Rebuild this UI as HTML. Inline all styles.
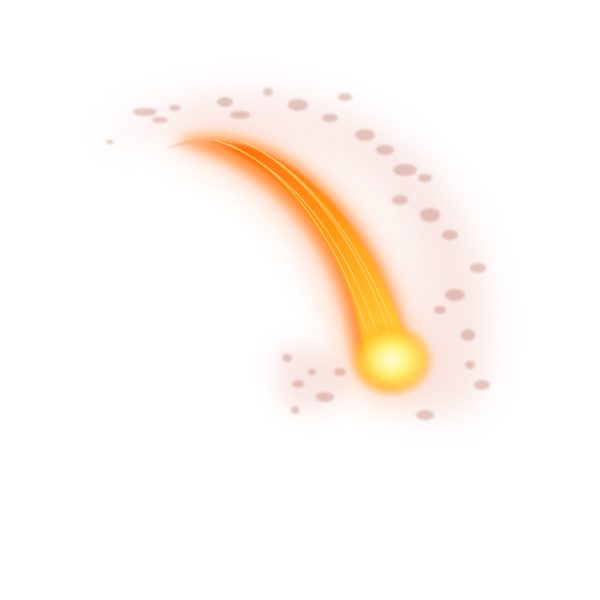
<!DOCTYPE html>
<html><head><meta charset="utf-8"><style>
html,body{margin:0;padding:0;background:#fff;width:600px;height:600px;overflow:hidden}
</style></head><body>
<svg width="600" height="600" viewBox="0 0 600 600">
<defs>
<filter id="b20" x="-50%" y="-50%" width="200%" height="200%"><feGaussianBlur stdDeviation="18"/></filter>
<filter id="b12" x="-50%" y="-50%" width="200%" height="200%"><feGaussianBlur stdDeviation="12"/></filter>
<filter id="b6" x="-50%" y="-50%" width="200%" height="200%"><feGaussianBlur stdDeviation="6"/></filter>
<filter id="b3" x="-50%" y="-50%" width="200%" height="200%"><feGaussianBlur stdDeviation="3"/></filter>
<filter id="b1"><feGaussianBlur stdDeviation="1.2"/></filter>
<linearGradient id="tail" x1="180" y1="140" x2="400" y2="370" gradientUnits="userSpaceOnUse">
<stop offset="0" stop-color="#f0a080" stop-opacity="0.5"/>
<stop offset="0.15" stop-color="#ff7010"/>
<stop offset="0.55" stop-color="#ff9a18"/>
<stop offset="1" stop-color="#ffd840"/>
</linearGradient>
<radialGradient id="head" cx="0.5" cy="0.5" r="0.5">
<stop offset="0" stop-color="#fffce0"/>
<stop offset="0.45" stop-color="#fff070"/>
<stop offset="0.8" stop-color="#ffc020" stop-opacity="0.7"/>
<stop offset="1" stop-color="#ff9010" stop-opacity="0"/>
</radialGradient>
</defs>
<path d="M110,130 C200,80 330,80 420,160 C480,220 500,300 480,400 C460,420 420,420 400,400 C440,330 430,230 360,170 C290,120 200,120 110,140 Z" fill="#f3c8c0" opacity="0.45" filter="url(#b20)"/>
<path d="M275,350 C300,340 340,350 350,380 C340,415 300,420 280,400 Z" fill="#f3c8c0" opacity="0.45" filter="url(#b12)"/>
<g filter="url(#b1)" fill="#b87060" opacity="0.35">
<ellipse cx="145" cy="112" rx="12" ry="4"/><ellipse cx="160" cy="120" rx="8" ry="3"/>
<ellipse cx="110" cy="142" rx="4" ry="2"/><ellipse cx="175" cy="108" rx="6" ry="3"/>
<ellipse cx="225" cy="102" rx="8" ry="5"/><ellipse cx="240" cy="115" rx="10" ry="4"/>
<ellipse cx="268" cy="92" rx="5" ry="4"/><ellipse cx="298" cy="105" rx="10" ry="6"/>
<ellipse cx="345" cy="97" rx="7" ry="4"/><ellipse cx="330" cy="118" rx="8" ry="4"/>
<ellipse cx="365" cy="135" rx="10" ry="6"/><ellipse cx="385" cy="150" rx="9" ry="5"/>
<ellipse cx="405" cy="170" rx="12" ry="6"/><ellipse cx="425" cy="178" rx="7" ry="4"/>
<ellipse cx="400" cy="200" rx="8" ry="5"/><ellipse cx="430" cy="215" rx="10" ry="7"/>
<ellipse cx="450" cy="235" rx="8" ry="5"/><ellipse cx="478" cy="268" rx="8" ry="5"/>
<ellipse cx="455" cy="295" rx="10" ry="6"/><ellipse cx="440" cy="310" rx="6" ry="4"/>
<ellipse cx="468" cy="335" rx="7" ry="6"/><ellipse cx="482" cy="385" rx="8" ry="5"/>
<ellipse cx="470" cy="365" rx="5" ry="4"/><ellipse cx="425" cy="415" rx="9" ry="5"/>
<ellipse cx="287" cy="358" rx="5" ry="4"/><ellipse cx="298" cy="384" rx="6" ry="4"/>
<ellipse cx="295" cy="410" rx="4" ry="4"/><ellipse cx="325" cy="397" rx="9" ry="5"/>
<ellipse cx="340" cy="372" rx="6" ry="4"/><ellipse cx="312" cy="372" rx="4" ry="3"/>
</g>
<path d="M165,145 C250,110 340,170 385,260 C420,330 430,380 400,400 C360,405 345,370 340,330 C320,250 270,170 165,145 Z" fill="#ff7020" opacity="0.35" filter="url(#b20)"/>
<path d="M175,142 C255,118 335,178 380,265 C405,320 415,365 398,385 C372,392 355,368 350,330 C335,250 280,168 175,142 Z" fill="#ff7a10" opacity="0.75" filter="url(#b6)"/>
<path d="M165,150 C245,118 328,175 375,265 C400,315 412,350 400,372 C380,380 364,360 360,330 C345,250 288,170 210,142 C190,138 175,143 165,150 Z" fill="url(#tail)" filter="url(#b1)"/>
<g stroke="#ffd870" stroke-width="1.3" fill="none" opacity="0.75">
<path d="M215,140 C290,165 345,240 378,335"/>
<path d="M240,140 C310,172 360,248 390,335"/>
<path d="M228,144 C296,174 342,252 368,335"/>
<path d="M260,150 C320,185 365,255 395,330"/>
</g>
<ellipse cx="392" cy="360" rx="42" ry="36" fill="url(#head)" filter="url(#b3)"/>
</svg>
</body></html>
